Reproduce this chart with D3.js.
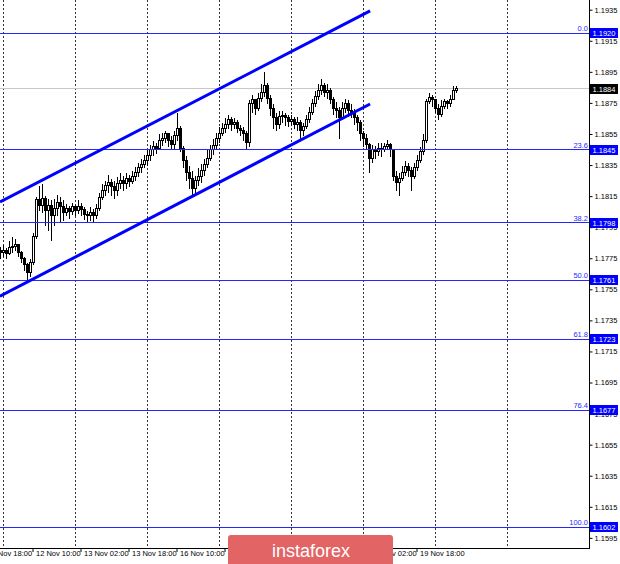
<!DOCTYPE html>
<html><head><meta charset="utf-8">
<script src="https://cdn.jsdelivr.net/npm/d3@7"></script>
<style>body{margin:0;background:#fff}svg{display:block}text{font-family:"Liberation Sans",Arial,sans-serif}</style>
</head><body><svg id="c" width="620" height="564"></svg>
<script>
// EURUSD H1 candles (index 0 = 11 Nov 23:00)
const opens=[1.17803,1.17790,1.17803,1.17783,1.17816,1.17828,1.17841,1.17790,1.17751,1.17712,
1.17661,1.17725,1.17893,1.18125,1.18092,1.18137,1.18060,1.18092,1.18028,1.18073,
1.18112,1.18086,1.18047,1.18073,1.18054,1.18080,1.18060,1.18086,1.18067,1.18034,
1.18022,1.18047,1.18028,1.18073,1.18144,1.18189,1.18221,1.18240,1.18215,1.18189,
1.18228,1.18253,1.18228,1.18266,1.18247,1.18279,1.18305,1.18331,1.18356,1.18382,
1.18414,1.18447,1.18472,1.18459,1.18511,1.18524,1.18550,1.18511,1.18485,1.18537,
1.18588,1.18459,1.18382,1.18305,1.18266,1.18202,1.18253,1.18279,1.18318,1.18356,
1.18395,1.18447,1.18479,1.18524,1.18550,1.18588,1.18614,1.18640,1.18614,1.18627,
1.18588,1.18575,1.18550,1.18498,1.18743,1.18769,1.18717,1.18781,1.18820,1.18859,
1.18781,1.18717,1.18653,1.18614,1.18665,1.18672,1.18653,1.18633,1.18640,1.18614,
1.18627,1.18575,1.18601,1.18640,1.18691,1.18743,1.18794,1.18833,1.18859,1.18820,
1.18833,1.18769,1.18717,1.18704,1.18653,1.18717,1.18743,1.18704,1.18691,1.18653,
1.18627,1.18550,1.18524,1.18485,1.18395,1.18447,1.18434,1.18459,1.18447,1.18472,
1.18485,1.18447,1.18279,1.18240,1.18266,1.18305,1.18343,1.18318,1.18279,1.18331,
1.18382,1.18434,1.18511,1.18756,1.18788,1.18769,1.18717,1.18678,1.18730,1.18756,
1.18743,1.18775,1.18833];
const highs=[1.17828,1.17841,1.17822,1.17867,1.17887,1.17874,1.17848,1.17803,1.17764,1.17725,
1.17751,1.17918,1.18150,1.18221,1.18234,1.18157,1.18137,1.18125,1.18137,1.18163,
1.18150,1.18125,1.18105,1.18092,1.18112,1.18099,1.18125,1.18112,1.18086,1.18060,
1.18080,1.18073,1.18105,1.18176,1.18228,1.18253,1.18292,1.18266,1.18253,1.18279,
1.18305,1.18285,1.18305,1.18292,1.18318,1.18343,1.18369,1.18395,1.18421,1.18447,
1.18485,1.18511,1.18498,1.18550,1.18562,1.18575,1.18562,1.18537,1.18575,1.18691,
1.18607,1.18479,1.18414,1.18350,1.18318,1.18285,1.18331,1.18363,1.18395,1.18447,
1.18485,1.18524,1.18562,1.18601,1.18627,1.18653,1.18678,1.18665,1.18659,1.18640,
1.18614,1.18595,1.18575,1.18769,1.18801,1.18781,1.18820,1.18872,1.18949,1.18884,
1.18807,1.18743,1.18691,1.18704,1.18704,1.18691,1.18678,1.18678,1.18665,1.18665,
1.18640,1.18627,1.18678,1.18730,1.18781,1.18833,1.18872,1.18910,1.18884,1.18872,
1.18846,1.18794,1.18756,1.18730,1.18756,1.18781,1.18769,1.18743,1.18717,1.18678,
1.18640,1.18575,1.18550,1.18498,1.18485,1.18479,1.18498,1.18498,1.18498,1.18517,
1.18498,1.18459,1.18318,1.18305,1.18350,1.18382,1.18369,1.18343,1.18369,1.18421,
1.18472,1.18550,1.18781,1.18820,1.18807,1.18781,1.18743,1.18769,1.18781,1.18775,
1.18801,1.18865,1.18859];
const lows=[1.17751,1.17764,1.17751,1.17777,1.17790,1.17803,1.17764,1.17725,1.17674,1.17597,
1.17635,1.17712,1.17880,1.18060,1.18047,1.17964,1.17931,1.17867,1.17964,1.18028,
1.17983,1.17996,1.18022,1.18009,1.18034,1.18022,1.18041,1.18028,1.18002,1.17983,
1.17996,1.17983,1.18009,1.18060,1.18125,1.18157,1.18176,1.18157,1.18137,1.18157,
1.18202,1.18189,1.18202,1.18215,1.18228,1.18253,1.18279,1.18305,1.18331,1.18350,
1.18382,1.18414,1.18427,1.18447,1.18479,1.18498,1.18472,1.18459,1.18447,1.18511,
1.18434,1.18331,1.18253,1.18202,1.18150,1.18176,1.18221,1.18240,1.18285,1.18331,
1.18382,1.18421,1.18459,1.18498,1.18537,1.18562,1.18588,1.18575,1.18588,1.18562,
1.18537,1.18511,1.18447,1.18472,1.18691,1.18678,1.18704,1.18756,1.18794,1.18743,
1.18672,1.18588,1.18575,1.18588,1.18627,1.18607,1.18601,1.18607,1.18588,1.18575,
1.18524,1.18537,1.18588,1.18627,1.18678,1.18730,1.18769,1.18807,1.18794,1.18781,
1.18743,1.18678,1.18653,1.18524,1.18640,1.18691,1.18665,1.18653,1.18614,1.18575,
1.18511,1.18472,1.18447,1.18305,1.18369,1.18395,1.18414,1.18408,1.18434,1.18447,
1.18408,1.18253,1.18189,1.18157,1.18253,1.18285,1.18279,1.18189,1.18266,1.18318,
1.18369,1.18421,1.18498,1.18743,1.18730,1.18691,1.18646,1.18665,1.18717,1.18717,
1.18730,1.18769,1.18814];
const closes=[1.17790,1.17803,1.17783,1.17816,1.17828,1.17841,1.17790,1.17751,1.17712,1.17661,
1.17725,1.17893,1.18125,1.18092,1.18137,1.18060,1.18092,1.18028,1.18073,1.18112,
1.18086,1.18047,1.18073,1.18054,1.18080,1.18060,1.18086,1.18067,1.18034,1.18022,
1.18047,1.18028,1.18073,1.18144,1.18189,1.18221,1.18240,1.18215,1.18189,1.18228,
1.18253,1.18228,1.18266,1.18247,1.18279,1.18305,1.18331,1.18356,1.18382,1.18414,
1.18447,1.18472,1.18459,1.18511,1.18524,1.18550,1.18511,1.18485,1.18537,1.18588,
1.18459,1.18382,1.18305,1.18266,1.18202,1.18253,1.18279,1.18318,1.18356,1.18395,
1.18447,1.18479,1.18524,1.18550,1.18588,1.18614,1.18640,1.18614,1.18627,1.18588,
1.18575,1.18550,1.18498,1.18743,1.18769,1.18717,1.18781,1.18820,1.18859,1.18781,
1.18717,1.18653,1.18614,1.18665,1.18672,1.18653,1.18633,1.18640,1.18614,1.18627,
1.18575,1.18601,1.18640,1.18691,1.18743,1.18794,1.18833,1.18859,1.18820,1.18833,
1.18769,1.18717,1.18704,1.18653,1.18717,1.18743,1.18704,1.18691,1.18653,1.18627,
1.18550,1.18524,1.18485,1.18395,1.18447,1.18434,1.18459,1.18447,1.18472,1.18485,
1.18447,1.18279,1.18240,1.18266,1.18305,1.18343,1.18318,1.18279,1.18331,1.18382,
1.18434,1.18511,1.18756,1.18788,1.18769,1.18717,1.18678,1.18730,1.18756,1.18743,
1.18775,1.18833,1.18840];

const fibNames=["0.0","23.6","38.2","50.0","61.8","76.4","100.0"];
const fibPrices=[1.1920,1.1845,1.1798,1.1761,1.1723,1.1677,1.1602];
const yTicks=[1.1935,1.1915,1.1895,1.1875,1.1855,1.1835,1.1815,1.1795,1.1775,1.1755,1.1735,1.1715,1.1695,1.1675,1.1655,1.1635,1.1615,1.1595];
const xTickIdx=[-5,11,27,43,59,75,91,107,123,139];
const xTickLabels=["11 Nov 18:00","12 Nov 10:00","13 Nov 02:00","13 Nov 18:00","16 Nov 10:00","17 Nov 02:00","17 Nov 18:00","18 Nov 10:00","19 Nov 02:00","19 Nov 18:00"];
const daySeparators=[1,25,49,73,97,121,145,169];
const lastPrice=1.1884;
const upperChannel=[[-0.17,1.18112],[123.2,1.19342]];
const lowerChannel=[[-0.17,1.17506],[123.2,1.18743]];

const PR=590, PB=548;
const x=d3.scaleLinear().domain([-1/6,196.5]).range([0,PR]);
const y=d3.scaleLinear().domain([1.1602,1.1920]).range([527,33]);
const px=v=>Math.floor(v)+0.5;
const svg=d3.select("#c");
const BLUE="#0000ff";

// day separators
svg.append("g").selectAll("line").data(daySeparators).join("line")
  .attr("x1",d=>px(x(d))).attr("x2",d=>px(x(d))).attr("y1",0).attr("y2",PB)
  .attr("stroke","#333").attr("stroke-dasharray","2,2").attr("shape-rendering","crispEdges");

// last price line
svg.append("line").attr("x1",0).attr("x2",PR).attr("y1",px(y(lastPrice))).attr("y2",px(y(lastPrice)))
  .attr("stroke","#c8c8c8").attr("shape-rendering","crispEdges");

// candles
const data=closes.map((c,i)=>({i,o:opens[i],h:highs[i],l:lows[i],c}));
const cg=svg.append("g").attr("shape-rendering","crispEdges");
cg.selectAll("line").data(data).join("line")
  .attr("x1",d=>px(x(d.i))).attr("x2",d=>px(x(d.i)))
  .attr("y1",d=>px(y(d.h))).attr("y2",d=>px(y(d.l)))
  .attr("stroke","#000");
cg.selectAll("rect").data(data).join("rect")
  .attr("x",d=>px(x(d.i))-1).attr("width",2)
  .attr("y",d=>px(y(Math.max(d.o,d.c))))
  .attr("height",d=>Math.max(0,px(y(Math.min(d.o,d.c)))-px(y(Math.max(d.o,d.c)))))
  .attr("fill",d=>d.c>=d.o?"#fff":"#000").attr("stroke","#000");

// fib level lines
svg.append("g").attr("shape-rendering","crispEdges").selectAll("line").data(fibPrices).join("line")
  .attr("x1",0).attr("x2",PR).attr("y1",d=>px(y(d))).attr("y2",d=>px(y(d)))
  .attr("stroke","#2626ff");
svg.append("g").selectAll("text").data(fibPrices).join("text")
  .attr("x",588).attr("y",d=>y(d)-2).attr("text-anchor","end")
  .attr("font-size","7.5px").attr("fill","#2a2aff").text((d,i)=>fibNames[i]);

// channel
const line=d3.line().x(d=>x(d[0])).y(d=>y(d[1]));
[upperChannel,lowerChannel].forEach(ch=>{
  svg.append("path").attr("d",line(ch)).attr("stroke",BLUE).attr("stroke-width",3).attr("fill","none");
});

// axes lines
svg.append("line").attr("x1",PR-0.5).attr("x2",PR-0.5).attr("y1",0).attr("y2",PB+0.5).attr("stroke","#000");
svg.append("line").attr("x1",0).attr("x2",PR).attr("y1",PB+0.5).attr("y2",PB+0.5).attr("stroke","#000");

const ya=svg.append("g").attr("transform",`translate(${PR-0.5},0)`)
  .call(d3.axisRight(y).tickValues(yTicks).tickSize(3).tickFormat(d3.format(".4f")));
ya.select(".domain").remove();
ya.selectAll("text").attr("x",5).attr("font-size","7.5px").attr("font-family","Liberation Sans, Arial, sans-serif").attr("fill","#000");

const xa=svg.append("g").attr("transform",`translate(-1,${PB})`)
  .call(d3.axisBottom(x).tickValues(xTickIdx).tickSize(4).tickFormat((d,i)=>xTickLabels[i]));
xa.select(".domain").remove();
xa.selectAll("text").attr("x",3).attr("y",3).attr("text-anchor","start")
  .attr("font-size","7.5px").attr("font-family","Liberation Sans, Arial, sans-serif").attr("fill","#000");

// price boxes
const bx=svg.append("g");
fibPrices.forEach(p=>{
  const yy=Math.round(y(p));
  bx.append("rect").attr("x",PR).attr("y",yy-5).attr("width",28).attr("height",10).attr("fill",BLUE);
  bx.append("text").attr("x",PR+14).attr("y",yy+3).attr("text-anchor","middle").attr("font-size","7.5px").attr("fill","#fff").text(d3.format(".4f")(p));
});
{
  const yy=Math.round(y(lastPrice));
  bx.append("rect").attr("x",PR).attr("y",yy-5).attr("width",28).attr("height",10).attr("fill","#000");
  bx.append("text").attr("x",PR+14).attr("y",yy+3).attr("text-anchor","middle").attr("font-size","7.5px").attr("fill","#fff").text(d3.format(".4f")(lastPrice));
}

// watermark
svg.append("rect").attr("x",228).attr("y",535).attr("width",165).attr("height",34).attr("rx",3).attr("fill","#e26464");
svg.append("text").attr("x",311).attr("y",557).attr("text-anchor","middle").attr("font-size","18px")
  .attr("font-family","Open Sans, sans-serif").attr("fill","#fff").text("instaforex");
</script></body></html>
